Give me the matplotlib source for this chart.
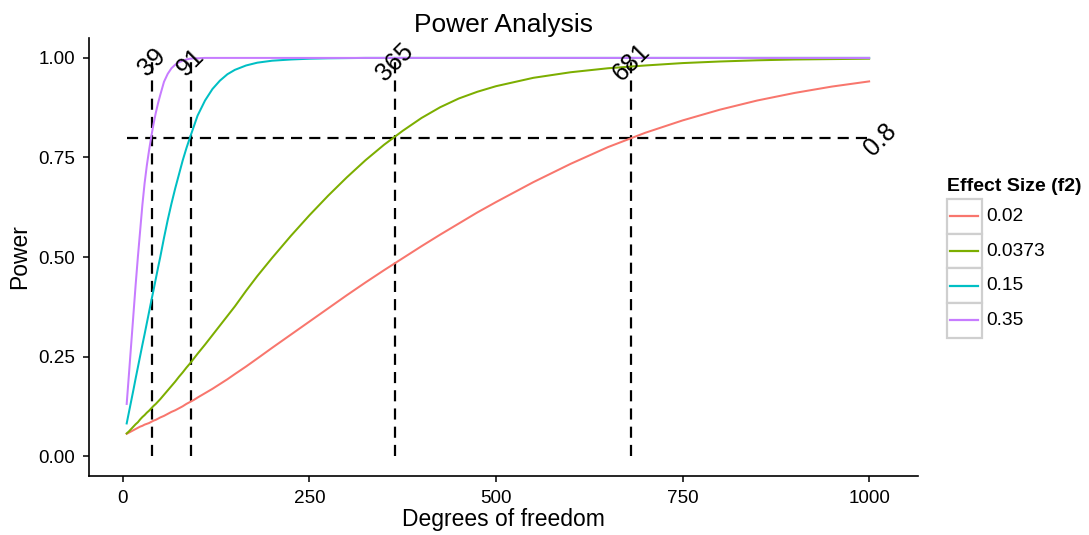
import numpy as np
import matplotlib
matplotlib.use('Agg')
import matplotlib.pyplot as plt
from matplotlib.patches import Rectangle

plt.rcParams['font.family'] = ['Liberation Sans', 'DejaVu Sans']

# degrees of freedom (x) and power
df = [5, 8, 11, 14, 17, 20, 23, 26, 29, 32,
      35, 38, 41, 44, 47, 50, 55, 60, 65, 70,
      75, 80, 85, 90, 95, 100, 110, 120, 130, 140,
      150, 165, 180, 200, 225, 250, 275, 300, 325, 350,
      375, 400, 425, 450, 475, 500, 550, 600, 650, 700,
      750, 800, 850, 900, 950, 1000]

power_002 = [0.056, 0.059, 0.062, 0.065, 0.068, 0.071, 0.074, 0.076, 0.079, 0.081,
             0.083, 0.086, 0.089, 0.091, 0.094, 0.097, 0.101, 0.106, 0.111, 0.115,
             0.120, 0.125, 0.131, 0.136, 0.141, 0.147, 0.158, 0.169, 0.181, 0.193,
             0.206, 0.225, 0.245, 0.272, 0.305, 0.338, 0.371, 0.404, 0.436, 0.467,
             0.497, 0.527, 0.556, 0.584, 0.612, 0.638, 0.688, 0.734, 0.776, 0.812,
             0.843, 0.870, 0.893, 0.912, 0.928, 0.941]

power_00373 = [0.057, 0.062, 0.068, 0.074, 0.080, 0.085, 0.092, 0.098, 0.103, 0.109,
               0.114, 0.120, 0.126, 0.131, 0.137, 0.143, 0.154, 0.165, 0.176, 0.187,
               0.199, 0.210, 0.222, 0.233, 0.245, 0.257, 0.280, 0.304, 0.328, 0.352,
               0.376, 0.415, 0.452, 0.498, 0.553, 0.605, 0.654, 0.700, 0.743, 0.782,
               0.817, 0.849, 0.876, 0.898, 0.915, 0.929, 0.950, 0.964, 0.974, 0.981,
               0.987, 0.991, 0.994, 0.996, 0.997, 0.998]

power_015 = [0.082, 0.110, 0.138, 0.166, 0.195, 0.223, 0.251, 0.279, 0.306, 0.334,
             0.362, 0.390, 0.417, 0.445, 0.473, 0.500, 0.548, 0.593, 0.634, 0.672,
             0.707, 0.742, 0.773, 0.801, 0.828, 0.855, 0.893, 0.922, 0.943, 0.959,
             0.970, 0.981, 0.988, 0.993, 0.996, 0.998, 0.999, 0.9995, 1.0, 1.0,
             1.0, 1.0, 1.0, 1.0, 1.0, 1.0, 1.0, 1.0, 1.0, 1.0,
             1.0, 1.0, 1.0, 1.0, 1.0, 1.0]

power_035 = [0.131, 0.205, 0.280, 0.355, 0.430, 0.500, 0.565, 0.630, 0.685, 0.730,
             0.768, 0.803, 0.834, 0.862, 0.886, 0.907, 0.940, 0.960, 0.974, 0.983,
             0.989, 0.993, 0.996, 0.998, 0.999, 0.999, 1.0, 1.0, 1.0, 1.0,
             1.0, 1.0, 1.0, 1.0, 1.0, 1.0, 1.0, 1.0, 1.0, 1.0,
             1.0, 1.0, 1.0, 1.0, 1.0, 1.0, 1.0, 1.0, 1.0, 1.0,
             1.0, 1.0, 1.0, 1.0, 1.0, 1.0]

effect_labels = ['0.02', '0.0373', '0.15', '0.35']
series = [power_002, power_00373, power_015, power_035]
colors = ['#F8766D', '#7CAE00', '#00BFC4', '#C77CFF']

# sample sizes reaching 80% power
required_df = [39, 91, 365, 681]
target_power = 0.8

W, H = 1089, 535
fig = plt.figure(figsize=(W / 100, H / 100), dpi=100)

def px_axes(x0, y0, x1, y1):
    # pixel box (top-left origin) -> figure axes
    return fig.add_axes([x0 / W, 1 - y1 / H, (x1 - x0) / W, (y1 - y0) / H])

ax = px_axes(89, 38, 918, 476)

for vals, c in zip(series, colors):
    ax.plot(df, vals, color=c, lw=1.45, zorder=3, solid_joinstyle='round')

dash = (0, (5, 3.2))
ax.plot([df[0], df[-1]], [target_power, target_power], color='black', lw=1.6,
        linestyle=dash, zorder=2)
for n in required_df:
    ax.plot([n, n], [0, 1], color='black', lw=1.6, linestyle=dash, zorder=2)
    ax.text(n, 0.99, str(n), rotation=45, ha='center', va='center',
            rotation_mode='anchor', fontsize=18, zorder=4)
ax.text(1015, 0.795, str(target_power), rotation=45, ha='center', va='center',
        rotation_mode='anchor', fontsize=18, zorder=4)

ax.set_xlim(-45.5, 1065.5)
ax.set_ylim(-0.05, 1.05)
ax.set_xticks([0, 250, 500, 750, 1000])
ax.set_yticks([0, 0.25, 0.5, 0.75, 1.0])
ax.set_yticklabels(['0.00', '0.25', '0.50', '0.75', '1.00'])
for s in ['top', 'right']:
    ax.spines[s].set_visible(False)
for s in ['left', 'bottom']:
    ax.spines[s].set_linewidth(1.2)
ax.tick_params(length=4, width=1.1, labelsize=13.6, colors='black')
ax.tick_params(axis='y', pad=6)
ax.tick_params(axis='x', pad=6)
ax.set_xlabel('Degrees of freedom', fontsize=16.5, labelpad=1)
ax.set_ylabel('Power', fontsize=16.5, labelpad=5)
ax.set_title('Power Analysis', fontsize=19, pad=4)

# legend drawn by hand with boxed keys like ggplot
lg = px_axes(940, 170, 1089, 345)
lg.set_xlim(940, 1089)
lg.set_ylim(345, 170)
lg.axis('off')
lg.text(947, 191, 'Effect Size (f2)', fontsize=14, fontweight='bold',
        ha='left', va='baseline')
key_h = 34.7
for i, (lab, c) in enumerate(zip(effect_labels, colors)):
    top = 199 + i * key_h
    lg.add_patch(Rectangle((947, top), 35, key_h, facecolor='white',
                           edgecolor='#cfcfcf', lw=1.6))
    lg.plot([950, 978], [top + key_h / 2] * 2, color=c, lw=1.6)
    lg.text(986, top + key_h / 2, lab, fontsize=13.8, ha='left', va='center')

fig.savefig('out.png', dpi=100)
